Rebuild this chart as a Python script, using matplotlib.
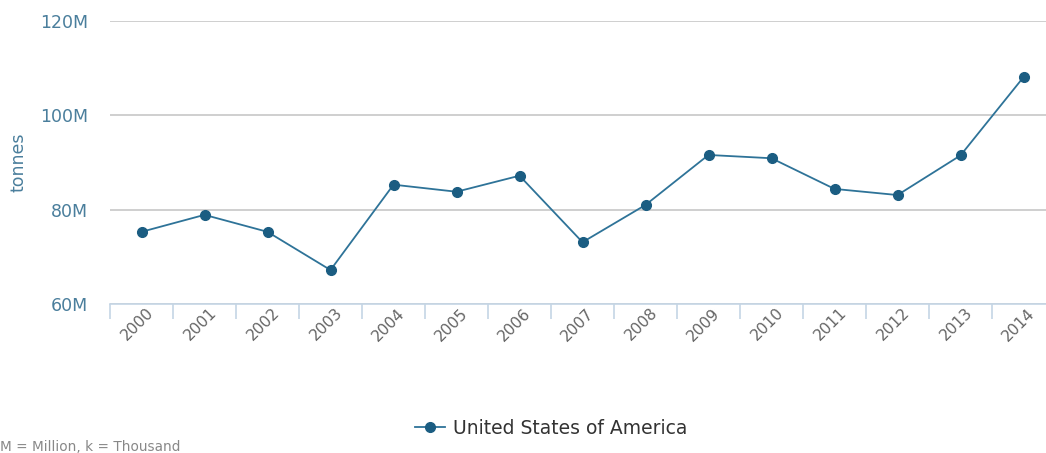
import matplotlib
matplotlib.use("Agg")
import matplotlib.pyplot as plt
import matplotlib.transforms as mtransforms
from matplotlib.ticker import FuncFormatter, FixedLocator

LINE = "#2e7398"
MARKER = "#1b5d82"
AXIS_TEXT = "#4a7e9c"
GRID = "#cccccc"
GREY = "#666666"

years = ["2000", "2001", "2002", "2003", "2004", "2005", "2006", "2007",
         "2008", "2009", "2010", "2011", "2012", "2013", "2014"]
tonnes_m = [75.3, 78.9, 75.3, 67.2, 85.3, 83.8, 87.2, 73.1,
            81.0, 91.6, 90.9, 84.4, 83.1, 91.5, 108.1]
series_name = "United States of America"

fig = plt.figure(figsize=(10.46, 4.53), dpi=100)
ax = fig.add_axes([110 / 1046, 1 - 304 / 453, 945 / 1046, 283 / 453])

x = list(range(len(years)))
ax.plot(x, tonnes_m, color=LINE, linewidth=1.3, marker="o", markersize=7,
        markerfacecolor=MARKER, markeredgecolor=MARKER, label=series_name,
        zorder=3, clip_on=False)

ax.set_xlim(-0.5, len(years) - 0.5)
ax.set_ylim(60, 120)
ax.set_yticks([60, 80, 100, 120])
ax.yaxis.set_major_formatter(FuncFormatter(lambda v, p: f"{int(v)}M"))
ax.grid(axis="y", color=GRID, linewidth=1.3)
ax.set_axisbelow(True)

for s in ["top", "right", "left"]:
    ax.spines[s].set_visible(False)
ax.spines["bottom"].set_color("#c5d5e5")
ax.spines["bottom"].set_linewidth(1.2)
ax.spines["bottom"].set_zorder(4)

ax.set_xticks(x)
ax.set_xticklabels(years, rotation=45, ha="right", rotation_mode="anchor",
                   fontsize=11.2, color=GREY)
ax.tick_params(axis="x", which="major", length=0, pad=1)
# nudge labels so they sit like the original (centred under the category)
shift = mtransforms.ScaledTranslation(4 / 100, 0, fig.dpi_scale_trans)
for lbl in ax.get_xticklabels():
    lbl.set_transform(lbl.get_transform() + shift)
ax.xaxis.set_minor_locator(FixedLocator([i - 0.5 for i in range(len(years) + 1)]))
ax.tick_params(axis="x", which="minor", length=11, color="#c5d5e5", width=1.2)
ax.tick_params(axis="y", length=0, pad=16, labelsize=12.5, labelcolor=AXIS_TEXT)

fig.text(19 / 1046, 1 - 162 / 453, "tonnes", rotation=90, fontsize=12.5,
         color=AXIS_TEXT, ha="center", va="center")

fig.legend(loc="center", bbox_to_anchor=(551 / 1046, 1 - 428 / 453),
           frameon=False, fontsize=13.5, handlelength=1.6, handletextpad=0.4,
           labelcolor="#333333")
fig.text(0.0, 1 - 447 / 453, "M = Million, k = Thousand", fontsize=9.8,
         color="#888888", va="center", ha="left")

fig.savefig("out.png", dpi=100)
